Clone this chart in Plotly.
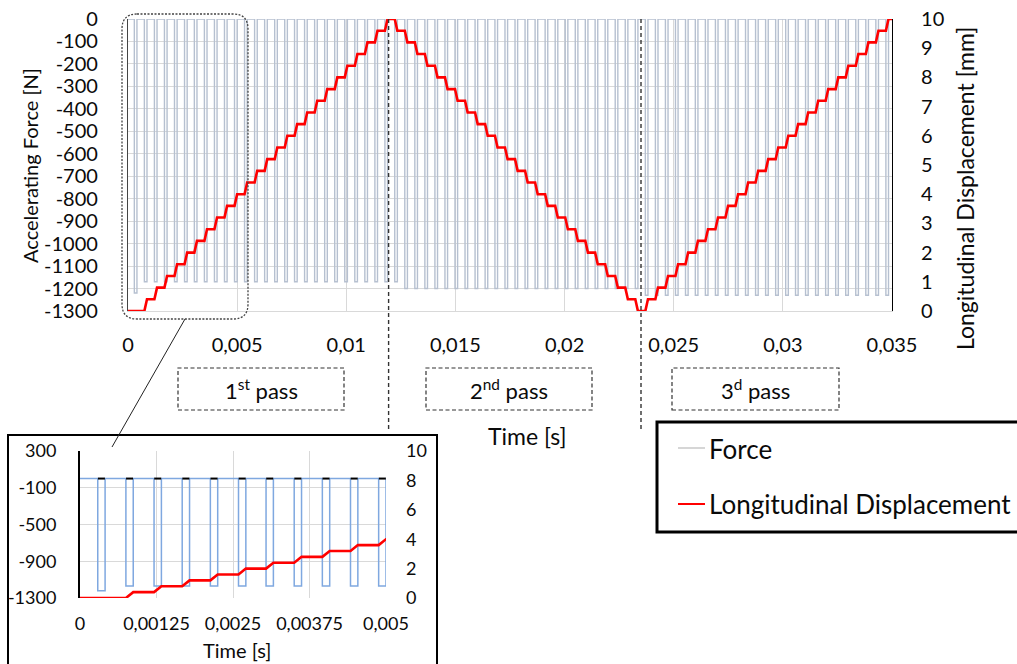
import plotly.graph_objects as go

W, H = 1017, 664

# ---------------- data ----------------
# centre time of each accelerating force pulse [s]
pulse_centers = [
    0.00035, 0.00081, 0.00127, 0.00173, 0.00219, 0.00265, 0.00310, 0.00356, 0.00402, 0.00448,
    0.00494, 0.00540, 0.00586, 0.00632, 0.00678, 0.00724, 0.00769, 0.00815, 0.00861, 0.00907,
    0.00953, 0.00999, 0.01045, 0.01091, 0.01137, 0.01183, 0.01228, 0.01274, 0.01320, 0.01366,
    0.01412, 0.01458, 0.01504, 0.01550, 0.01596, 0.01642, 0.01687, 0.01733, 0.01779, 0.01825,
    0.01871, 0.01917, 0.01963, 0.02009, 0.02055, 0.02101, 0.02146, 0.02192, 0.02238, 0.02284,
    0.02330, 0.02376, 0.02422, 0.02468, 0.02514, 0.02560, 0.02605, 0.02651, 0.02697, 0.02743,
    0.02789, 0.02835, 0.02881, 0.02927, 0.02973, 0.03019, 0.03064, 0.03110, 0.03156, 0.03202,
    0.03248, 0.03294, 0.03340, 0.03386, 0.03432, 0.03478,
]
pulse_width = 0.00012  # s
# force level reached by each pulse [N]
pulse_depth = [
    -1220, -1170, -1170, -1170, -1170, -1170, -1170, -1170, -1170, -1170,
    -1170, -1170, -1170, -1170, -1170, -1170, -1170, -1170, -1170, -1170,
    -1170, -1170, -1170, -1170, -1170, -1170, -1170, -1200, -1200, -1200,
    -1200, -1200, -1200, -1200, -1200, -1200, -1200, -1200, -1200, -1200,
    -1200, -1200, -1200, -1200, -1200, -1200, -1200, -1200, -1200, -1200,
    -1200, -1230, -1230, -1230, -1230, -1230, -1230, -1230, -1230, -1230,
    -1230, -1230, -1230, -1230, -1230, -1230, -1230, -1230, -1230, -1230,
    -1230, -1230, -1230, -1230, -1230, -1230,
]
# longitudinal displacement after each pulse [mm]
disp_after = [
    0.0, 0.4, 0.8, 1.2, 1.6, 2.0, 2.4, 2.8, 3.2, 3.6,
    4.0, 4.4, 4.8, 5.2, 5.6, 6.0, 6.4, 6.8, 7.2, 7.6,
    8.0, 8.4, 8.8, 9.2, 9.6, 10.0, 9.6, 9.2, 8.8, 8.4,
    8.0, 7.6, 7.2, 6.8, 6.4, 6.0, 5.6, 5.2, 4.8, 4.4,
    4.0, 3.6, 3.2, 2.8, 2.4, 2.0, 1.6, 1.2, 0.8, 0.4,
    0.0, 0.4, 0.8, 1.2, 1.6, 2.0, 2.4, 2.8, 3.2, 3.6,
    4.0, 4.4, 4.8, 5.2, 5.6, 6.0, 6.4, 6.8, 7.2, 7.6,
    8.0, 8.4, 8.8, 9.2, 9.6, 10.0,
]
t_end = 0.035

main_x_ticks = [0, 0.005, 0.01, 0.015, 0.02, 0.025, 0.03, 0.035]
main_x_labels = ["0", "0,005", "0,01", "0,015", "0,02", "0,025", "0,03", "0,035"]
force_ticks = [-1300, -1200, -1100, -1000, -900, -800, -700, -600, -500, -400, -300, -200, -100, 0]
force_labels = ["-1300", "-1200", "-1100", "-1000", "-900", "-800", "-700", "-600", "-500",
                "-400", "-300", "-200", "-100", "0"]
disp_ticks = [0, 1, 2, 3, 4, 5, 6, 7, 8, 9, 10]

inset_x_ticks = [0, 0.00125, 0.0025, 0.00375, 0.005]
inset_x_labels = ["0", "0,00125", "0,0025", "0,00375", "0,005"]
inset_force_ticks = [-1300, -900, -500, -100, 300]
inset_force_labels = ["-1300", "-900", "-500", "-100", "300"]
inset_disp_ticks = [0, 2, 4, 6, 8, 10]

pass_labels = ["1<sup>st</sup> pass", "2<sup>nd</sup> pass", "3<sup>d</sup> pass"]
series_names = ["Force", "Longitudinal Displacement"]

# ---------------- build series ----------------
force_x, force_y = [0.0], [0.0]
for c, d in zip(pulse_centers, pulse_depth):
    s, e = c - pulse_width / 2, c + pulse_width / 2
    force_x += [s, s, e, e]
    force_y += [0, d, d, 0]
force_x.append(t_end)
force_y.append(0)

disp_x, disp_y = [0.0], [0.0]
prev = 0.0
for c, lvl in zip(pulse_centers, disp_after):
    s, e = c - pulse_width / 2, c + pulse_width / 2
    disp_x += [s, e]
    disp_y += [prev, lvl]
    prev = lvl
disp_x.append(t_end)
disp_y.append(prev)


def px(x):
    return x / W


def py(y):
    return 1 - y / H


FONT = "Lato"
TXT = "#0a0a0a"
FORCE_MAIN = "#b6c0d0"
FORCE_INSET = "#7fa8e0"
RED = "#ff0000"
GRID = "#d9d9d9"

fig = go.Figure()
fig.add_trace(go.Scatter(x=force_x, y=force_y, mode="lines", name=series_names[0],
                         line=dict(color=FORCE_MAIN, width=1.4), xaxis="x", yaxis="y",
                         showlegend=False))
fig.add_trace(go.Scatter(x=disp_x, y=disp_y, mode="lines", name=series_names[1],
                         line=dict(color=RED, width=2.6), xaxis="x", yaxis="y2",
                         showlegend=False))
fig.add_trace(go.Scatter(x=force_x, y=force_y, mode="lines", name=series_names[0],
                         line=dict(color=FORCE_INSET, width=1.5), xaxis="x3", yaxis="y3",
                         showlegend=False))
fig.add_trace(go.Scatter(x=[c for c in pulse_centers if c <= 0.005],
                         y=[0 for c in pulse_centers if c <= 0.005], mode="markers",
                         marker=dict(symbol="line-ew", size=5, line=dict(color="#000", width=2)),
                         xaxis="x3", yaxis="y3", showlegend=False, cliponaxis=True))
fig.add_trace(go.Scatter(x=disp_x, y=disp_y, mode="lines", name=series_names[1],
                         line=dict(color=RED, width=2.6), xaxis="x3", yaxis="y4",
                         showlegend=False))

tickfont_main = dict(family=FONT, size=20, color=TXT)
tickfont_inset = dict(family=FONT, size=18, color=TXT)

fig.update_layout(
    template="none",
    width=W, height=H, autosize=False,
    margin=dict(l=0, r=0, t=0, b=0, pad=0),
    paper_bgcolor="white", plot_bgcolor="white",
    showlegend=False,
    xaxis=dict(domain=[px(128), px(892)], range=[0, t_end], tickvals=main_x_ticks,
               ticktext=main_x_labels, tickfont=tickfont_main, showgrid=True,
               gridcolor=GRID, gridwidth=1, zeroline=False, showline=True,
               linecolor=GRID, linewidth=1, ticks="", ticklabelstandoff=16,
               anchor="y", automargin=False),
    yaxis=dict(domain=[py(311), py(19)], range=[-1300, 0], tickvals=force_ticks,
               ticktext=force_labels, tickfont=tickfont_main, showgrid=True,
               gridcolor=GRID, gridwidth=1, zeroline=False, showline=True,
               linecolor="#444444", linewidth=1.2, ticks="", ticklabelstandoff=25,
               anchor="x", automargin=False),
    yaxis2=dict(overlaying="y", side="right", anchor="x", range=[0, 10], tickvals=disp_ticks,
                tickfont=tickfont_main, showgrid=False, zeroline=False, showline=True,
                linecolor="#000000", linewidth=1.2, ticks="", ticklabelstandoff=24,
                automargin=False),
    xaxis3=dict(domain=[px(80), px(386)], range=[0, 0.005], tickvals=inset_x_ticks,
                ticktext=inset_x_labels, tickfont=tickfont_inset, showgrid=True,
                gridcolor=GRID, zeroline=False, showline=False, ticks="",
                ticklabelstandoff=13, anchor="y3", automargin=False),
    yaxis3=dict(domain=[py(598), py(451)], range=[-1300, 300], tickvals=inset_force_ticks,
                ticktext=inset_force_labels, tickfont=tickfont_inset, showgrid=True,
                gridcolor=GRID, zeroline=False, showline=True, linecolor="#000000",
                linewidth=2, ticks="", ticklabelstandoff=18, anchor="x3", automargin=False),
    yaxis4=dict(overlaying="y3", side="right", anchor="x3", range=[0, 10],
                tickvals=inset_disp_ticks, tickfont=tickfont_inset, showgrid=False,
                zeroline=False, showline=False, ticks="", ticklabelstandoff=19,
                automargin=False),
)

shapes = []
# inset frame
shapes.append(dict(type="rect", xref="paper", yref="paper", x0=px(8), x1=px(437),
                   y0=py(672), y1=py(435), line=dict(color="#000", width=2),
                   fillcolor="rgba(0,0,0,0)", layer="below"))
# legend frame
shapes.append(dict(type="rect", xref="paper", yref="paper", x0=px(657), x1=px(1024),
                   y0=py(532), y1=py(422), line=dict(color="#000", width=3),
                   fillcolor="white", layer="above"))
# legend samples
shapes.append(dict(type="line", xref="paper", yref="paper", x0=px(678), x1=px(705),
                   y0=py(448), y1=py(448), line=dict(color="#c8c8c8", width=1.5)))
shapes.append(dict(type="line", xref="paper", yref="paper", x0=px(678), x1=px(705),
                   y0=py(504), y1=py(504), line=dict(color=RED, width=2)))

# rounded dotted frame around the first pass zoom region
x0, x1, y0, y1, r = 122, 248, 14, 319, 15
pts = [
    ("M", [(x0 + r, y0)]), ("L", [(x1 - r, y0)]), ("Q", [(x1, y0), (x1, y0 + r)]),
    ("L", [(x1, y1 - r)]), ("Q", [(x1, y1), (x1 - r, y1)]), ("L", [(x0 + r, y1)]),
    ("Q", [(x0, y1), (x0, y1 - r)]), ("L", [(x0, y0 + r)]), ("Q", [(x0, y0), (x0 + r, y0)]),
]
path = " ".join(cmd + " " + " ".join(f"{px(a):.5f},{py(b):.5f}" for a, b in p) for cmd, p in pts) + " Z"
shapes.append(dict(type="path", xref="paper", yref="paper", path=path,
                   line=dict(color="#444444", width=1.3, dash="2px,1.5px")))
# connector line to inset
shapes.append(dict(type="line", xref="paper", yref="paper", x0=px(185), y0=py(319),
                   x1=px(112), y1=py(447), line=dict(color="#222", width=1)))
# vertical dashed separators between passes
for xp, yb in [(388.6, 429), (641, 430)]:
    shapes.append(dict(type="line", xref="paper", yref="paper", x0=px(xp), x1=px(xp),
                       y0=py(19), y1=py(yb), line=dict(color="#333", width=1.4, dash="4px,3px")))
# pass label boxes
boxes = [(178, 344), (426, 592), (672, 839)]
for bx0, bx1 in boxes:
    shapes.append(dict(type="rect", xref="paper", yref="paper", x0=px(bx0), x1=px(bx1),
                       y0=py(410), y1=py(368),
                       line=dict(color="#333", width=1.2, dash="4px,2.5px")))

fig.update_layout(shapes=shapes)

ann = []
for (bx0, bx1), lab in zip(boxes, pass_labels):
    ann.append(dict(x=px((bx0 + bx1) / 2), y=py(389), xref="paper", yref="paper", text=lab,
                    showarrow=False, font=dict(family=FONT, size=22, color=TXT),
                    xanchor="center", yanchor="middle"))
ann.append(dict(x=px(527), y=py(436), xref="paper", yref="paper", text="Time [s]",
                showarrow=False, font=dict(family=FONT, size=23, color=TXT),
                xanchor="center", yanchor="middle"))
ann.append(dict(x=px(237), y=py(650), xref="paper", yref="paper", text="Time [s]",
                showarrow=False, font=dict(family=FONT, size=20, color=TXT),
                xanchor="center", yanchor="middle"))
ann.append(dict(x=px(30), y=py(166), xref="paper", yref="paper", text="Accelerating Force [N]",
                showarrow=False, textangle=-90, font=dict(family=FONT, size=20, color=TXT),
                xanchor="center", yanchor="middle"))
ann.append(dict(x=px(965), y=py(189), xref="paper", yref="paper",
                text="Longitudinal Displacement [mm]", showarrow=False, textangle=-90,
                font=dict(family=FONT, size=23, color=TXT), xanchor="center", yanchor="middle"))
ann.append(dict(x=px(707), y=py(449), xref="paper", yref="paper", text=series_names[0],
                showarrow=False, font=dict(family=FONT, size=26, color=TXT),
                xanchor="left", yanchor="middle"))
ann.append(dict(x=px(707), y=py(504), xref="paper", yref="paper", text=series_names[1],
                showarrow=False, font=dict(family=FONT, size=26, color=TXT),
                xanchor="left", yanchor="middle"))
fig.update_layout(annotations=ann)

fig.write_html("out.html", config={"displayModeBar": False},
               post_script="document.body.style.margin='0';document.body.style.overflow='hidden';")
